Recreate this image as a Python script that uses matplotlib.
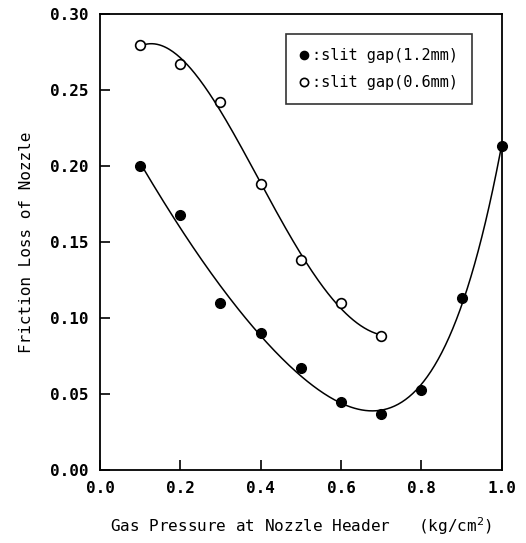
import matplotlib
matplotlib.use('Agg')
import matplotlib.pyplot as plt
import numpy as np

plt.rcParams['font.family'] = 'DejaVu Sans Mono'

pressure_wide = [0.1, 0.2, 0.3, 0.4, 0.5, 0.6, 0.7, 0.8, 0.9, 1.0]
loss_wide = [0.200, 0.168, 0.110, 0.090, 0.067, 0.045, 0.037, 0.053, 0.113, 0.213]
pressure_narrow = [0.1, 0.2, 0.3, 0.4, 0.5, 0.6, 0.7]
loss_narrow = [0.280, 0.267, 0.242, 0.188, 0.138, 0.110, 0.088]

fig = plt.figure(figsize=(5.26, 5.43), dpi=100)
ax = fig.add_axes([0.190, 0.134, 0.764, 0.840])

# smooth fitted curves through each series
xs = np.linspace(0.1, 1.0, 200)
cw = np.polyfit(pressure_wide, loss_wide, 5)
ax.plot(xs, np.polyval(cw, xs), color='black', lw=1.1)
xn = np.linspace(0.1, 0.7, 200)
cn = np.polyfit(pressure_narrow, loss_narrow, 4)
ax.plot(xn, np.polyval(cn, xn), color='black', lw=1.1)

ax.plot(pressure_wide, loss_wide, 'o', ms=7, color='black', mfc='black',
        label=':slit gap(1.2mm)', clip_on=False, zorder=3)
ax.plot(pressure_narrow, loss_narrow, 'o', ms=7, color='black', mfc='white',
        mew=1.2, label=':slit gap(0.6mm)', clip_on=False, zorder=3)

ax.set_xlim(0.0, 1.0)
ax.set_ylim(0.0, 0.30)
ax.set_xticks(np.arange(0, 1.01, 0.2))
ax.set_yticks(np.arange(0, 0.301, 0.05))
ax.set_xticklabels(['0.0', '0.2', '0.4', '0.6', '0.8', '1.0'], fontweight='bold')
ax.set_yticklabels(['0.00', '0.05', '0.10', '0.15', '0.20', '0.25', '0.30'], fontweight='bold')
ax.tick_params(direction='in', length=7, width=1.2, labelsize=11.5, pad=8)
for s in ax.spines.values():
    s.set_linewidth(1.3)

ax.set_xlabel('Gas Pressure at Nozzle Header   (kg/cm$^{2}$)', fontsize=11.5, labelpad=14)
ax.set_ylabel('Friction Loss of Nozzle', fontsize=11.5, labelpad=12)

leg = ax.legend(loc='upper right', bbox_to_anchor=(0.925, 0.956), fontsize=11,
                handlelength=0.6, handletextpad=0.2, markerscale=0.85,
                labelspacing=0.8, fancybox=False, edgecolor='black',
                borderpad=0.9, borderaxespad=0)
leg.get_frame().set_linewidth(1.2)

fig.savefig('out.png', facecolor='w')
